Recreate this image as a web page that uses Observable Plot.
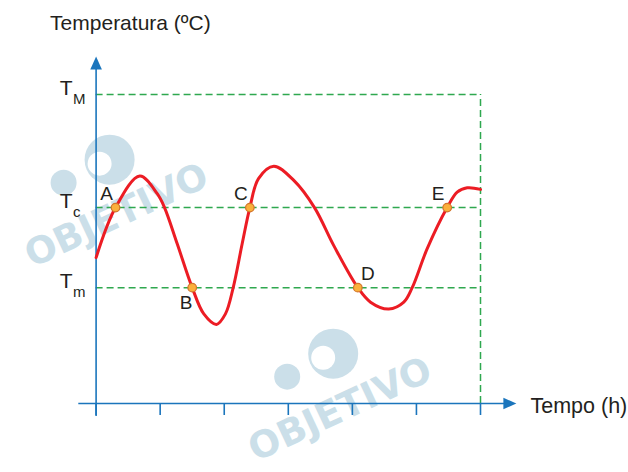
<!DOCTYPE html>
<html><head><meta charset="utf-8">
<script src="https://cdn.jsdelivr.net/npm/d3@7"></script>
<script src="https://cdn.jsdelivr.net/npm/@observablehq/plot@0.6"></script>
<style>body{margin:0;background:#fff}</style>
</head><body><div id="chart"></div>
<script>
// ---- data ----
const xTicks = [0, 1, 2, 3, 4, 5, 6];
const levelNames = ["M", "c", "m"];
const levelValues = [10, 6.34, 3.75];
const curveX = [0.00, 0.303, 0.682, 0.954, 1.068, 1.266, 1.50, 1.681, 1.879, 2.019, 2.14, 2.28, 2.40, 2.535, 2.774, 3.086, 3.409, 3.71, 4.085, 4.283, 4.568, 4.803, 4.934, 5.168, 5.48, 5.636, 5.792, 6.00];
const curveY = [4.72, 6.34, 7.36, 6.79, 6.34, 5.17, 3.75, 2.90, 2.56, 2.90, 3.75, 5.17, 6.34, 7.28, 7.68, 7.22, 6.34, 5.11, 3.75, 3.28, 3.06, 3.28, 3.75, 5.01, 6.34, 6.84, 6.98, 6.93];
const pointNames = ["A", "B", "C", "D", "E"];
const pointX = [0.303, 1.50, 2.40, 4.085, 5.48];
const pointY = [6.34, 3.75, 6.34, 3.75, 6.34];
const yTitle = "Temperatura (ºC)";
const xTitle = "Tempo (h)";
const axisYExtent = [-0.42, 11.23];
const axisXExtent = [-0.27, 6.56];
const watermarkText = "OBJETIVO";
const watermarkX = [0.32, 3.81];
const watermarkY = [6.08, -0.2];

// ---- tables built from the arrays ----
const levels = levelNames.map((n, i) => ({name: n, value: levelValues[i]}));
const curve = curveX.map((x, i) => ({x, y: curveY[i]}));
const points = pointNames.map((n, i) => ({name: n, x: pointX[i], y: pointY[i]}));
const watermarks = watermarkX.map((x, i) => ({x, y: watermarkY[i], t: watermarkText}));

const blue = "#1b75bc", green = "#2fa84f", red = "#ec1c24", ink = "#231f20", wm = "#cbdfe9";
const arrowHead = {draw(ctx) { ctx.moveTo(0, 0); ctx.lineTo(-5.8, 13); ctx.lineTo(5.8, 13); ctx.closePath(); }};

const chart = Plot.plot({
  width: 628, height: 472,
  marginLeft: 95.6, marginRight: 148, marginTop: 94, marginBottom: 69,
  x: {domain: [0, 6], axis: null},
  y: {domain: [0, 10], axis: null},
  style: {fontFamily: "'Liberation Sans', Arial, sans-serif", background: "white", overflow: "visible"},
  marks: [
    // watermark
    Plot.dot(watermarks, {x: "x", y: "y", dx: -7, dy: -56, r: 25, fill: wm}),
    Plot.dot(watermarks, {x: "x", y: "y", dx: -17, dy: -52, r: 12, fill: "white"}),
    Plot.dot(watermarks, {x: "x", y: "y", dx: -53, dy: -33, r: 13, fill: wm}),
    Plot.text(watermarks, {x: "x", y: "y", text: "t", rotate: -25, fontSize: 37, fontWeight: "bold", fontFamily: "'DejaVu Sans', sans-serif", fill: wm}),
    // dashed reference lines
    Plot.ruleY(levels, {y: "value", x1: 0, x2: 6, stroke: green, strokeWidth: 1.5, strokeDasharray: "7,4"}),
    Plot.ruleX([6], {y1: 0, y2: levelValues[0], stroke: green, strokeWidth: 1.5, strokeDasharray: "7,4"}),
    // axes
    Plot.ruleX([0], {y1: axisYExtent[0], y2: axisYExtent[1] - 0.3, stroke: blue, strokeWidth: 1.6}),
    Plot.ruleY([0], {x1: axisXExtent[0], x2: axisXExtent[1] - 0.15, stroke: blue, strokeWidth: 1.6}),
    Plot.axisX({ticks: xTicks, tickSize: 12, tickFormat: () => "", stroke: blue, strokeWidth: 1.6, label: null}),
    Plot.dot([0], {x: 0, y: axisYExtent[1], symbol: arrowHead, fill: blue, stroke: null}),
    Plot.dot([0], {x: axisXExtent[1], y: 0, symbol: arrowHead, rotate: 90, fill: blue, stroke: null}),
    // level labels
    Plot.text(levels, {x: 0, y: "value", text: () => "T", dx: -30, dy: -6, fontSize: 21, fill: ink}),
    Plot.text(levels, {x: 0, y: "value", text: "name", dx: -23, dy: 5, textAnchor: "start", fontSize: 15, fill: ink}),
    // axis titles
    Plot.text([yTitle], {frameAnchor: "top-left", text: d => d, dx: -46, dy: -79, textAnchor: "start", fontSize: 21, fill: ink}),
    Plot.text([xTitle], {frameAnchor: "bottom-right", text: d => d, dx: 50, dy: 9, textAnchor: "start", fontSize: 21.5, fill: ink}),
    // curve
    Plot.line(curve, {x: "x", y: "y", curve: "catmull-rom", stroke: red, strokeWidth: 3}),
    // points
    Plot.dot(points, {x: "x", y: "y", r: 4.3, fill: "#fbb03b", stroke: "#d2752b", strokeWidth: 1.2}),
    Plot.text(points.filter(d => "ACE".includes(d.name)), {x: "x", y: "y", text: "name", dx: -9, dy: -14, fontSize: 19, fill: ink}),
    Plot.text(points.filter(d => d.name === "B"), {x: "x", y: "y", text: "name", dx: -6, dy: 15, fontSize: 19, fill: ink}),
    Plot.text(points.filter(d => d.name === "D"), {x: "x", y: "y", text: "name", dx: 10, dy: -14, fontSize: 19, fill: ink})
  ]
});
document.getElementById("chart").append(chart);
</script>
</body></html>
